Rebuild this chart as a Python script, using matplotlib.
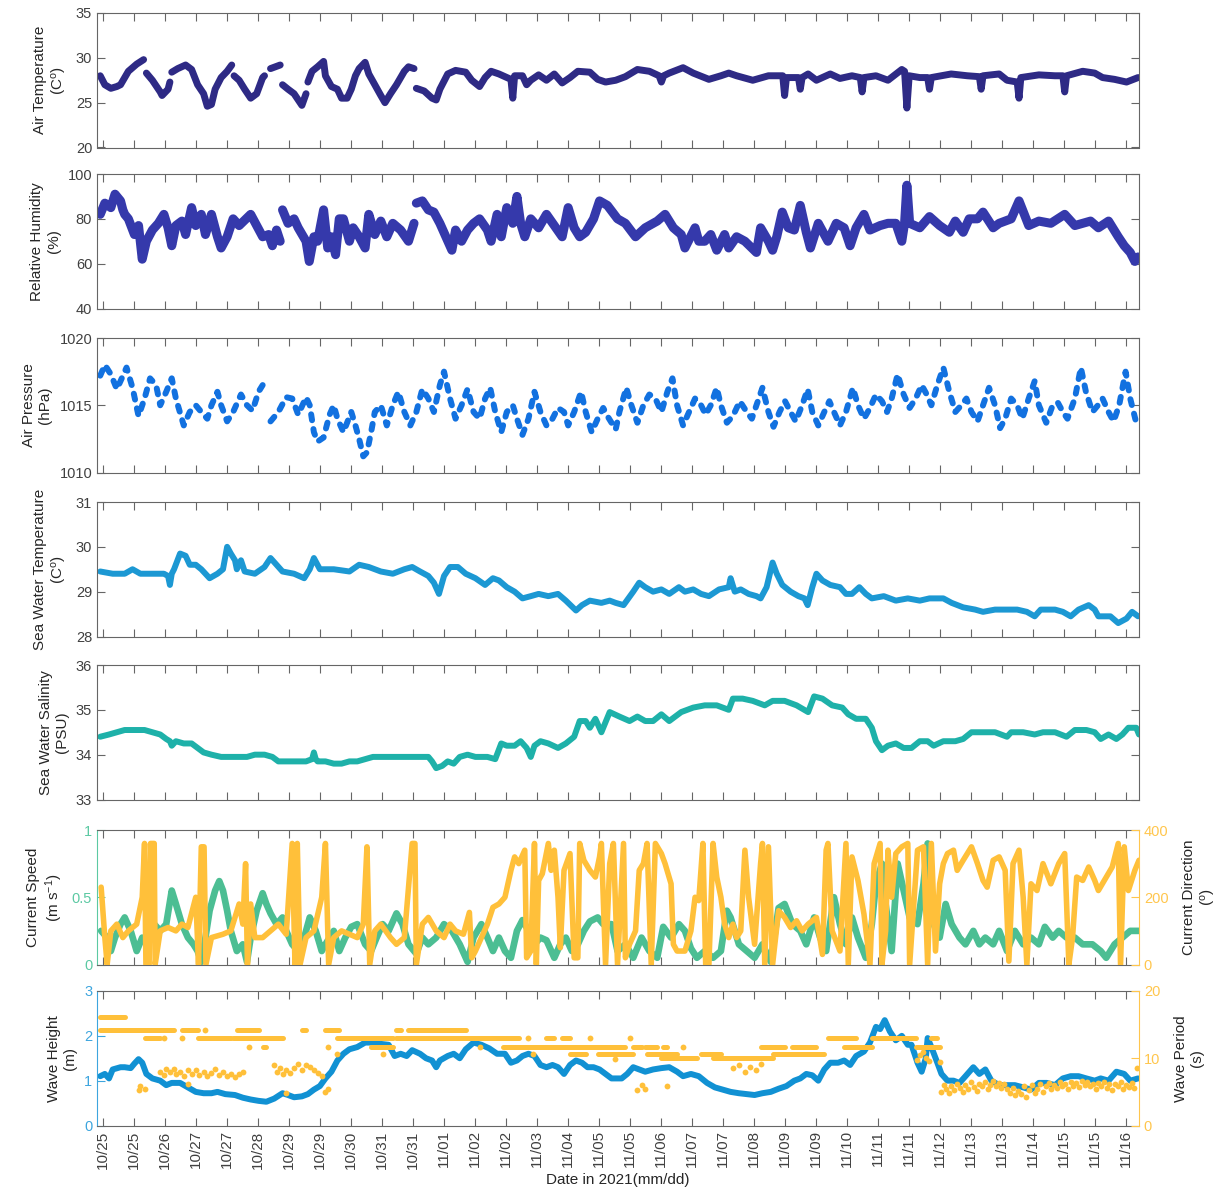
import numpy as np
import matplotlib
matplotlib.use('Agg')
import matplotlib.pyplot as plt
from matplotlib.ticker import FormatStrFormatter

plt.rcParams['font.family'] = ['Liberation Sans', 'DejaVu Sans']
plt.rcParams['mathtext.default'] = 'regular'

nan = np.nan

# time axis: days since 2021-10-25 00:00
x_lo, x_hi = 0.12, 22.70
tick_start, tick_step = 0.25, 0.672
tick_labels = ['10/25', '10/25', '10/26', '10/27', '10/27', '10/28', '10/29', '10/29', '10/30', '10/31',
               '10/31', '11/01', '11/02', '11/02', '11/03', '11/04', '11/05', '11/05', '11/06', '11/07',
               '11/07', '11/08', '11/09', '11/09', '11/10', '11/11', '11/11', '11/12', '11/13', '11/13',
               '11/14', '11/15', '11/15', '11/16']

# air temperature
air_t = [0.19, 0.29, 0.42, 0.55, 0.63, 0.80, 0.98, 1.13, nan,
         1.19, 1.32, 1.49, 1.53, 1.66, 1.70, nan,
         1.74, 1.87, 2.04, 2.17, 2.30, 2.43, 2.51, 2.60, 2.68, 2.81, 2.94, 3.04, nan,
         3.09, 3.20, 3.32, 3.45, 3.58, 3.71, 3.75, nan,
         3.88, 4.09, nan,
         4.14, 4.26, 4.39, 4.56, 4.65, nan,
         4.69, 4.78, 4.90, 5.03, 5.07, 5.20, 5.33, 5.42, 5.54, 5.63, 5.72, 5.80, 5.93, 6.01, 6.14, 6.27,
         6.36, 6.48, 6.61, 6.78, 6.87, 6.99, nan,
         7.04, 7.21, 7.38, 7.47, 7.55, 7.72, 7.89, 8.11, 8.24, 8.41,
         8.53, 8.66, 8.83, 9.00, 9.09, 9.13, 9.17, 9.34, 9.43, 9.52,
         9.69, 9.86, 10.03, 10.20, 10.37, 10.54, 10.80, 10.97, 11.14, 11.36,
         11.57, 11.83, 12.09, 12.30, 12.35, 12.40, 12.52, 12.82, 13.04, 13.38,
         13.64, 13.81, 13.98, 14.33, 14.67, 14.98, 15.02, 15.06, 15.32, 15.36,
         15.40, 15.53, 15.71, 16.01, 16.22, 16.48, 16.66, 16.70, 16.74, 17.00,
         17.26, 17.56, 17.62, 17.67, 17.72, 17.95, 18.12, 18.16, 18.20, 18.63,
         18.98, 19.24, 19.28, 19.32, 19.67, 19.84, 20.06, 20.10, 20.14, 20.53,
         20.88, 21.05, 21.09, 21.13, 21.48, 21.74, 21.91, 22.17, 22.43, 22.68]
air_v = [28.0, 27.0, 26.6, 26.8, 27.0, 28.5, 29.3, 29.8, nan,
         28.3, 27.5, 26.2, 25.8, 26.5, 27.3, nan,
         28.4, 28.8, 29.2, 28.7, 27.0, 26.0, 24.6, 24.8, 26.5, 27.8, 28.5, 29.2, nan,
         28.0, 27.5, 26.5, 25.5, 26.0, 27.8, 28.0, nan,
         28.8, 29.2, nan,
         27.0, 26.5, 26.0, 24.7, 26.0, nan,
         27.3, 28.5, 29.0, 29.6, 28.0, 26.8, 26.5, 25.5, 25.5, 26.5, 28.0, 28.8, 29.5, 28.2, 27.0, 25.8,
         25.0, 26.0, 27.0, 28.5, 29.0, 28.8, nan,
         26.6, 26.3, 25.5, 25.3, 26.5, 28.2, 28.6, 28.4, 27.5, 26.8,
         27.8, 28.5, 28.2, 27.8, 27.6, 25.5, 28.0, 28.0, 27.0, 27.5,
         28.1, 27.5, 28.2, 27.2, 27.8, 28.5, 28.4, 27.6, 27.3, 27.5,
         27.9, 28.7, 28.5, 28.0, 27.3, 28.0, 28.3, 28.9, 28.3, 27.6,
         28.0, 28.3, 28.0, 27.5, 28.0, 28.0, 25.8, 27.8, 27.8, 26.5,
         27.8, 28.2, 27.5, 28.2, 27.7, 28.0, 27.8, 26.2, 27.8, 28.0,
         27.5, 28.7, 28.5, 24.4, 28.0, 27.8, 27.8, 26.5, 27.8, 28.2,
         28.0, 27.9, 26.5, 28.0, 28.2, 27.5, 27.3, 25.5, 27.8, 28.1,
         28.0, 28.0, 26.2, 28.0, 28.5, 28.3, 27.8, 27.6, 27.3, 27.8]

# relative humidity
hum_t = [0.19, 0.29, 0.42, 0.51, 0.63, 0.68, 0.72, 0.80, 0.93, 1.02,
         1.10, 1.19, 1.32, 1.45, 1.57, 1.66, 1.74, 1.83, 1.96, 2.04,
         2.17, 2.26, 2.38, 2.47, 2.60, 2.73, 2.81, 2.94, 3.07, 3.20,
         3.45, 3.58, 3.71, 3.84, 3.92, 4.01, 4.09, nan,
         4.14, 4.26, 4.39, 4.48, 4.65, 4.72, 4.82, 4.90, 5.03, 5.12,
         5.20, 5.29, 5.37, 5.46, 5.59, 5.67, 5.80, 5.93, 6.01, 6.14,
         6.27, 6.40, 6.53, 6.70, 6.87, 6.99, nan,
         7.04, 7.17, 7.30, 7.42, 7.55, 7.68, 7.81, 7.89, 8.02, 8.15,
         8.28, 8.41, 8.58, 8.66, 8.79, 8.88, 9.00, 9.13, 9.22, 9.30,
         9.39, 9.52, 9.69, 9.86, 10.03, 10.20, 10.33, 10.46, 10.58, 10.71,
         10.88, 11.01, 11.18, 11.40, 11.57, 11.79, 12.00, 12.26, 12.43, 12.61,
         12.78, 12.86, 13.08, 13.16, 13.29, 13.42, 13.55, 13.72, 13.81, 13.98,
         14.16, 14.41, 14.50, 14.67, 14.76, 14.85, 14.97, 15.10, 15.23, 15.36,
         15.49, 15.58, 15.75, 15.96, 16.14, 16.31, 16.44, 16.57, 16.74, 16.87,
         17.09, 17.26, 17.43, 17.56, 17.62, 17.67, 17.73, 17.95, 18.16, 18.38,
         18.59, 18.72, 18.89, 19.02, 19.20, 19.32, 19.54, 19.67, 19.93, 20.10,
         20.31, 20.53, 20.79, 21.09, 21.31, 21.65, 21.82, 22.04, 22.25, 22.38,
         22.51, 22.61, 22.68]
hum_v = [82, 87, 85, 91, 88, 84, 82, 80, 73, 77,
         62, 70, 75, 78, 82, 76, 68, 77, 79, 73,
         85, 77, 82, 73, 82, 72, 67, 72, 80, 77,
         82, 77, 72, 73, 68, 75, 70, nan,
         84, 78, 80, 76, 70, 61, 72, 70, 84, 67,
         72, 64, 80, 80, 70, 76, 72, 67, 82, 73,
         79, 72, 78, 75, 70, 78, nan,
         87, 88, 84, 83, 78, 72, 66, 75, 70, 75,
         78, 80, 75, 70, 82, 72, 85, 78, 90, 78,
         72, 80, 76, 82, 77, 72, 85, 76, 72, 74,
         80, 88, 86, 80, 78, 72, 76, 79, 82, 76,
         73, 67, 76, 70, 70, 73, 66, 73, 67, 72,
         70, 65, 76, 70, 66, 72, 83, 76, 75, 86,
         74, 67, 78, 70, 78, 76, 68, 76, 82, 75,
         77, 78, 78, 70, 78, 95, 78, 76, 81, 77,
         74, 79, 74, 80, 80, 83, 76, 78, 80, 88,
         77, 79, 78, 82, 77, 79, 76, 79, 72, 68,
         65, 61, 63]

# air pressure
pres_t = [0.19, 0.29, 0.42, 0.55, 0.63, 0.76, 0.89, 1.02, 1.15, 1.27,
          1.40, 1.49, 1.62, 1.74, 1.83, 2.00, 2.13, 2.26, 2.38, 2.51,
          2.60, 2.73, 2.81, 2.94, 3.07, 3.24, 3.37, 3.49, 3.62, 3.71, nan,
          3.88, 4.05, 4.22, 4.35, 4.48, 4.65, 4.73, 4.82, 4.90, 5.03,
          5.16, 5.25, 5.33, 5.46, 5.63, 5.72, 5.80, 5.89, 5.97, 6.06,
          6.14, 6.27, 6.40, 6.53, 6.65, 6.78, 6.91, 7.04, 7.17, 7.30,
          7.42, 7.55, 7.64, 7.77, 7.89, 8.02, 8.15, 8.28, 8.41, 8.53,
          8.64, 8.75, 8.88, 9.00, 9.13, 9.22, 9.34, 9.47, 9.60, 9.73,
          9.86, 9.99, 10.11, 10.24, 10.33, 10.46, 10.61, 10.71, 10.84, 10.97,
          11.09, 11.18, 11.36, 11.44, 11.59, 11.70, 11.83, 11.96, 12.09, 12.22,
          12.35, 12.48, 12.59, 12.69, 12.82, 12.95, 13.08, 13.21, 13.31, 13.42,
          13.55, 13.64, 13.77, 13.90, 14.05, 14.20, 14.31, 14.41, 14.54, 14.67,
          14.78, 14.91, 15.03, 15.15, 15.26, 15.40, 15.52, 15.62, 15.75, 15.88,
          15.99, 16.09, 16.22, 16.35, 16.50, 16.61, 16.74, 16.87, 17.00, 17.13,
          17.24, 17.34, 17.47, 17.60, 17.73, 17.86, 17.99, 18.10, 18.20, 18.33,
          18.46, 18.59, 18.72, 18.85, 18.96, 19.07, 19.20, 19.32, 19.45, 19.58,
          19.69, 19.80, 19.93, 20.06, 20.17, 20.31, 20.44, 20.53, 20.69, 20.83,
          20.94, 21.05, 21.15, 21.31, 21.44, 21.55, 21.69, 21.81, 21.91, 22.04,
          22.15, 22.27, 22.41, 22.51, 22.64, 22.70]
pres_v = [1017.2, 1018.0, 1017.3, 1016.2, 1016.8, 1017.8, 1016.3, 1014.2, 1015.5, 1017.0,
          1016.5, 1015.0, 1016.0, 1017.0, 1015.5, 1013.5, 1014.5, 1015.0, 1014.5, 1014.0,
          1015.0, 1016.0, 1015.0, 1013.8, 1014.5, 1015.8, 1015.0, 1014.6, 1016.0, 1016.5, nan,
          1013.8, 1014.5, 1015.6, 1015.5, 1014.3, 1015.6, 1015.0, 1013.0, 1012.3, 1012.6,
          1014.3, 1015.0, 1014.0, 1013.0, 1014.5, 1013.5, 1012.5, 1011.2, 1011.5, 1013.0,
          1014.5, 1015.0, 1013.5, 1015.0, 1016.0, 1014.5, 1013.5, 1014.5, 1016.2, 1015.5,
          1014.5, 1016.5, 1017.5, 1015.5, 1014.0, 1015.0, 1016.2, 1014.5, 1014.0, 1015.5,
          1016.3, 1014.5, 1013.0, 1014.5, 1015.0, 1014.0, 1012.8, 1014.0, 1016.0, 1014.5,
          1013.5, 1014.0, 1014.8, 1014.5, 1013.5, 1014.5, 1016.0, 1014.5, 1013.0, 1014.0,
          1014.8, 1014.2, 1013.2, 1014.5, 1016.3, 1015.0, 1013.7, 1015.0, 1015.8, 1015.5,
          1014.5, 1016.0, 1017.0, 1015.0, 1013.5, 1014.5, 1015.5, 1015.0, 1014.3, 1015.0,
          1016.3, 1015.0, 1013.7, 1014.2, 1015.3, 1014.5, 1014.0, 1015.0, 1016.3, 1014.5,
          1013.4, 1014.5, 1015.3, 1014.5, 1013.8, 1015.0, 1016.2, 1014.5, 1013.5, 1014.5,
          1015.3, 1014.5, 1013.5, 1014.5, 1016.3, 1015.0, 1014.0, 1014.8, 1015.8, 1015.3,
          1014.5, 1015.5, 1017.3, 1015.8, 1014.8, 1015.5, 1016.5, 1015.8, 1015.0, 1016.5,
          1017.8, 1016.0, 1014.5, 1015.0, 1015.5, 1014.5, 1013.8, 1015.0, 1016.3, 1015.0,
          1013.3, 1014.0, 1015.5, 1015.0, 1014.0, 1015.5, 1016.8, 1015.0, 1013.7, 1015.0,
          1015.2, 1014.5, 1014.0, 1015.5, 1017.8, 1016.0, 1014.5, 1015.0, 1015.5, 1014.5,
          1013.8, 1015.0, 1017.5, 1015.5, 1013.7, 1013.8]

# sea water temperature
sst_t = [0.19, 0.46, 0.72, 0.89, 1.06, 1.32, 1.57, 1.66, 1.70, 1.74,
         1.79, 1.92, 2.04, 2.13, 2.26, 2.38, 2.56, 2.73, 2.85, 2.94,
         3.02, 3.11, 3.15, 3.24, 3.32, 3.54, 3.75, 3.88, 4.01, 4.14,
         4.39, 4.61, 4.73, 4.82, 4.95, 5.25, 5.59, 5.80, 6.01, 6.27,
         6.53, 6.78, 6.95, 7.12, 7.30, 7.42, 7.53, 7.64, 7.77, 7.94,
         8.11, 8.32, 8.53, 8.70, 8.83, 9.00, 9.17, 9.34, 9.52, 9.69,
         9.90, 10.11, 10.28, 10.50, 10.63, 10.80, 11.05, 11.23, 11.36, 11.53,
         11.74, 11.87, 12.00, 12.17, 12.35, 12.52, 12.73, 12.86, 13.04, 13.21,
         13.38, 13.60, 13.81, 13.85, 13.94, 14.07, 14.24, 14.41, 14.50, 14.63,
         14.76, 14.85, 14.97, 15.15, 15.32, 15.45, 15.52, 15.62, 15.71, 15.84,
         16.01, 16.22, 16.35, 16.48, 16.64, 16.78, 16.91, 17.17, 17.43, 17.69,
         17.95, 18.16, 18.46, 18.64, 18.89, 19.15, 19.32, 19.58, 19.84, 20.06,
         20.27, 20.44, 20.57, 20.88, 21.05, 21.22, 21.39, 21.61, 21.74, 21.82,
         22.08, 22.25, 22.43, 22.55, 22.68]
sst_v = [29.45, 29.4, 29.4, 29.5, 29.4, 29.4, 29.4, 29.35, 29.15, 29.4,
         29.5, 29.85, 29.8, 29.6, 29.6, 29.5, 29.3, 29.4, 29.5, 30.0,
         29.85, 29.7, 29.5, 29.7, 29.45, 29.4, 29.55, 29.75, 29.6, 29.45,
         29.4, 29.3, 29.5, 29.75, 29.5, 29.5, 29.45, 29.6, 29.55, 29.45,
         29.4, 29.5, 29.55, 29.45, 29.35, 29.2, 28.95, 29.35, 29.55, 29.55,
         29.4, 29.3, 29.15, 29.3, 29.25, 29.1, 29.0, 28.85, 28.9, 28.95,
         28.9, 28.95, 28.8, 28.58, 28.7, 28.8, 28.75, 28.8, 28.75, 28.7,
         29.0, 29.2, 29.1, 29.0, 29.05, 28.95, 29.1, 29.0, 29.05, 28.95,
         28.9, 29.05, 29.1, 29.3, 29.0, 29.05, 28.95, 28.9, 28.85, 29.1,
         29.65, 29.4, 29.15, 29.0, 28.9, 28.85, 28.7, 29.1, 29.4, 29.25,
         29.15, 29.1, 28.95, 28.95, 29.1, 28.95, 28.85, 28.9, 28.8, 28.85,
         28.8, 28.85, 28.85, 28.75, 28.65, 28.6, 28.55, 28.6, 28.6, 28.6,
         28.55, 28.45, 28.6, 28.6, 28.55, 28.45, 28.6, 28.7, 28.6, 28.45,
         28.45, 28.3, 28.4, 28.55, 28.45]

# sea water salinity
sal_t = [0.19, 0.38, 0.55, 0.72, 1.15, 1.32, 1.49, 1.62, 1.70, 1.74,
         1.83, 2.00, 2.17, 2.30, 2.43, 2.60, 2.81, 3.02, 3.20, 3.37,
         3.54, 3.75, 3.92, 4.05, 4.22, 4.48, 4.65, 4.78, 4.82, 4.86,
         4.90, 5.07, 5.25, 5.42, 5.59, 5.76, 5.93, 6.10, 6.36, 6.61,
         6.87, 7.12, 7.30, 7.38, 7.47, 7.60, 7.72, 7.85, 7.98, 8.15,
         8.32, 8.58, 8.75, 8.88, 9.00, 9.17, 9.30, 9.43, 9.52, 9.60,
         9.73, 9.90, 10.11, 10.28, 10.46, 10.58, 10.71, 10.80, 10.92, 11.05,
         11.23, 11.44, 11.66, 11.83, 12.00, 12.17, 12.35, 12.52, 12.78, 13.04,
         13.29, 13.55, 13.81, 13.90, 14.11, 14.33, 14.59, 14.76, 15.02, 15.28,
         15.53, 15.66, 15.84, 16.05, 16.27, 16.40, 16.57, 16.78, 16.91, 17.00,
         17.13, 17.26, 17.43, 17.60, 17.77, 17.95, 18.12, 18.25, 18.46, 18.72,
         18.89, 19.07, 19.32, 19.58, 19.84, 19.93, 20.19, 20.44, 20.62, 20.88,
         21.13, 21.31, 21.56, 21.74, 21.87, 22.04, 22.21, 22.34, 22.47, 22.64,
         22.70]
sal_v = [34.4, 34.45, 34.5, 34.55, 34.55, 34.5, 34.45, 34.35, 34.3, 34.2,
         34.3, 34.25, 34.25, 34.15, 34.05, 34.0, 33.95, 33.95, 33.95, 33.95,
         34.0, 34.0, 33.95, 33.85, 33.85, 33.85, 33.85, 33.9, 34.05, 33.9,
         33.85, 33.85, 33.8, 33.8, 33.85, 33.85, 33.9, 33.95, 33.95, 33.95,
         33.95, 33.95, 33.95, 33.85, 33.7, 33.75, 33.85, 33.8, 33.95, 34.0,
         33.95, 33.95, 33.9, 34.25, 34.2, 34.2, 34.3, 34.15, 33.95, 34.2,
         34.3, 34.25, 34.15, 34.25, 34.4, 34.75, 34.75, 34.6, 34.8, 34.5,
         34.95, 34.85, 34.75, 34.85, 34.75, 34.75, 34.9, 34.75, 34.95, 35.05,
         35.1, 35.1, 35.0, 35.25, 35.25, 35.2, 35.1, 35.2, 35.2, 35.1,
         34.95, 35.3, 35.25, 35.1, 35.05, 34.9, 34.8, 34.8, 34.6, 34.3,
         34.1, 34.2, 34.25, 34.15, 34.15, 34.3, 34.3, 34.2, 34.3, 34.3,
         34.35, 34.5, 34.5, 34.5, 34.4, 34.5, 34.5, 34.45, 34.5, 34.5,
         34.4, 34.55, 34.55, 34.5, 34.35, 34.45, 34.35, 34.45, 34.6, 34.6,
         34.45]

# current speed (m/s)
spd_t = [0.21, 0.34, 0.42, 0.51, 0.63, 0.72, 0.85, 0.98, 1.10, 1.23,
         1.36, 1.49, 1.62, 1.74, 1.83, 1.96, 2.09, 2.21, 2.30, 2.38,
         2.47, 2.56, 2.68, 2.77, 2.85, 2.94, 3.02, 3.15, 3.28, 3.37,
         3.45, 3.58, 3.71, 3.79, 3.88, 4.01, 4.14, 4.22, 4.35, 4.48,
         4.61, 4.73, 4.86, 4.99, 5.07, 5.25, 5.37, 5.50, 5.63, 5.76,
         5.93, 6.06, 6.18, 6.31, 6.44, 6.61, 6.74, 6.87, 7.04, 7.17,
         7.30, 7.47, 7.64, 7.81, 7.98, 8.15, 8.28, 8.45, 8.58, 8.70,
         8.83, 8.96, 9.09, 9.22, 9.34, 9.47, 9.60, 9.73, 9.86, 10.03,
         10.16, 10.28, 10.41, 10.54, 10.67, 10.80, 10.97, 11.09, 11.27, 11.40,
         11.57, 11.74, 11.92, 12.09, 12.26, 12.39, 12.56, 12.73, 12.86, 12.99,
         13.12, 13.29, 13.47, 13.64, 13.77, 13.85, 14.03, 14.20, 14.37, 14.54,
         14.72, 14.89, 15.02, 15.19, 15.36, 15.49, 15.66, 15.79, 15.92, 16.09,
         16.22, 16.35, 16.48, 16.61, 16.78, 16.91, 17.00, 17.13, 17.21, 17.34,
         17.47, 17.60, 17.73, 17.90, 18.03, 18.12, 18.25, 18.38, 18.51, 18.64,
         18.81, 18.94, 19.11, 19.24, 19.37, 19.54, 19.67, 19.84, 20.01, 20.19,
         20.36, 20.53, 20.66, 20.83, 20.96, 21.13, 21.31, 21.48, 21.69, 21.87,
         21.99, 22.17, 22.34, 22.51, 22.70]
spd_v = [0.25, 0.2, 0.1, 0.2, 0.3, 0.35, 0.25, 0.1, 0.2, 0.15,
         0.3, 0.25, 0.3, 0.55, 0.45, 0.3, 0.2, 0.15, 0.1, 0.02,
         0.2, 0.4, 0.55, 0.62, 0.55, 0.4, 0.25, 0.1, 0.15, 0.02,
         0.2, 0.4, 0.53, 0.45, 0.38, 0.3, 0.35, 0.25, 0.15, 0.1,
         0.2, 0.35, 0.25, 0.1, 0.15, 0.25, 0.1, 0.2, 0.28, 0.3,
         0.15, 0.1, 0.2, 0.3, 0.25, 0.38, 0.3, 0.15, 0.08, 0.2,
         0.15, 0.2, 0.3, 0.25, 0.15, 0.02, 0.2, 0.3, 0.2, 0.1,
         0.2, 0.1, 0.05, 0.25, 0.33, 0.25, 0.15, 0.2, 0.18, 0.05,
         0.15, 0.2, 0.1, 0.15, 0.25, 0.32, 0.35, 0.3, 0.3, 0.1,
         0.15, 0.05, 0.2, 0.1, 0.05, 0.28, 0.2, 0.3, 0.25, 0.12,
         0.05, 0.1, 0.05, 0.1, 0.4, 0.35, 0.15, 0.1, 0.05, 0.15,
         0.02, 0.42, 0.45, 0.3, 0.25, 0.15, 0.35, 0.2, 0.1, 0.5,
         0.3, 0.15, 0.35, 0.2, 0.05, 0.3, 0.6, 0.75, 0.45, 0.1,
         0.75, 0.55, 0.35, 0.3, 0.6, 0.9, 0.3, 0.2, 0.45, 0.3,
         0.2, 0.15, 0.25, 0.15, 0.2, 0.15, 0.25, 0.1, 0.25, 0.15,
         0.2, 0.15, 0.28, 0.2, 0.25, 0.2, 0.2, 0.15, 0.15, 0.1,
         0.05, 0.15, 0.2, 0.25, 0.25]

# current direction (deg)
dir_t = [0.21, 0.29, 0.34, 0.42, 0.55, 0.68, 0.80, 0.98, 1.10, 1.15,
         1.18, 1.25, 1.28, 1.36, 1.38, 1.49, 1.66, 1.83, 1.96, 2.09,
         2.26, 2.32, 2.38, 2.44, 2.48, 2.60, 2.85, 3.02, 3.20, 3.28,
         3.34, 3.38, 3.45, 3.54, 3.71, 3.88, 4.05, 4.22, 4.35, 4.41,
         4.46, 4.52, 4.65, 4.82, 4.99, 5.07, 5.14, 5.25, 5.42, 5.59,
         5.76, 5.89, 5.97, 6.03, 6.14, 6.27, 6.48, 6.61, 6.78, 6.95,
         7.01, 7.04, 7.17, 7.30, 7.47, 7.64, 7.77, 7.89, 8.06, 8.19,
         8.24, 8.32, 8.45, 8.58, 8.70, 8.83, 8.96, 9.09, 9.17, 9.26,
         9.39, 9.43, 9.52, 9.60, 9.64, 9.69, 9.77, 9.90, 9.96, 10.03,
         10.11, 10.16, 10.24, 10.37, 10.46, 10.54, 10.58, 10.67, 10.80, 10.92,
         11.01, 11.05, 11.14, 11.23, 11.31, 11.40, 11.53, 11.57, 11.66, 11.79,
         11.87, 11.96, 12.04, 12.13, 12.22, 12.35, 12.43, 12.56, 12.61, 12.69,
         12.86, 12.99, 13.08, 13.16, 13.25, 13.31, 13.38, 13.47, 13.55, 13.64,
         13.72, 13.81, 13.90, 13.98, 14.07, 14.16, 14.24, 14.37, 14.50, 14.54,
         14.59, 14.67, 14.76, 14.89, 15.02, 15.15, 15.28, 15.40, 15.53, 15.71,
         15.84, 15.92, 15.96, 16.05, 16.22, 16.35, 16.40, 16.48, 16.61, 16.74,
         16.87, 16.96, 17.09, 17.13, 17.21, 17.26, 17.34, 17.43, 17.56, 17.69,
         17.73, 17.90, 18.03, 18.12, 18.20, 18.29, 18.38, 18.46, 18.55, 18.68,
         18.76, 18.89, 19.07, 19.20, 19.32, 19.41, 19.54, 19.67, 19.80, 19.88,
         19.97, 20.10, 20.19, 20.27, 20.36, 20.49, 20.62, 20.79, 20.96, 21.09,
         21.18, 21.26, 21.35, 21.48, 21.61, 21.74, 21.82, 21.99, 22.12, 22.25,
         22.30, 22.38, 22.47, 22.61, 22.70]
dir_v = [230, 80, 0, 100, 120, 80, 100, 120, 200, 360,
         0, 0, 360, 360, 0, 100, 110, 100, 120, 110,
         200, 0, 350, 350, 0, 80, 90, 100, 180, 120,
         300, 0, 180, 80, 80, 100, 120, 90, 360, 0,
         360, 0, 80, 100, 200, 360, 0, 80, 100, 90,
         80, 120, 350, 0, 100, 120, 80, 60, 80, 360,
         360, 0, 120, 140, 100, 80, 120, 100, 90, 155,
         20, 40, 80, 120, 170, 180, 200, 280, 320, 300,
         340, 20, 40, 360, 0, 250, 270, 360, 280, 340,
         200, 50, 280, 330, 20, 20, 360, 310, 280, 260,
         320, 360, 0, 300, 360, 0, 360, 20, 60, 100,
         280, 300, 360, 0, 360, 330, 300, 240, 60, 40,
         40, 100, 200, 190, 360, 0, 0, 360, 260, 200,
         120, 80, 120, 80, 100, 340, 200, 60, 300, 360,
         0, 350, 0, 160, 140, 110, 130, 100, 120, 140,
         30, 340, 360, 100, 40, 360, 0, 320, 250, 150,
         0, 300, 360, 0, 100, 340, 200, 330, 350, 360,
         0, 340, 350, 0, 360, 40, 240, 300, 330, 340,
         280, 310, 350, 300, 250, 230, 310, 320, 280, 10,
         300, 340, 200, 0, 240, 220, 300, 240, 300, 330,
         0, 80, 260, 250, 290, 250, 220, 260, 290, 360,
         0, 350, 220, 280, 310]

# wave height (m)
wh_t = [0.19, 0.29, 0.38, 0.46, 0.63, 0.72, 0.85, 0.93, 1.02, 1.10,
        1.19, 1.32, 1.49, 1.62, 1.74, 1.92, 2.09, 2.26, 2.43, 2.60,
        2.73, 2.90, 3.11, 3.28, 3.45, 3.62, 3.79, 3.96, 4.14, 4.26,
        4.39, 4.56, 4.69, 4.82, 4.95, 5.07, 5.20, 5.33, 5.46, 5.59,
        5.76, 5.93, 6.10, 6.27, 6.44, 6.57, 6.70, 6.83, 6.95, 7.12,
        7.25, 7.38, 7.47, 7.55, 7.72, 7.85, 7.98, 8.11, 8.28, 8.45,
        8.62, 8.79, 8.96, 9.09, 9.22, 9.34, 9.47, 9.60, 9.73, 9.86,
        9.99, 10.11, 10.24, 10.37, 10.50, 10.63, 10.75, 10.88, 11.01, 11.14,
        11.27, 11.36, 11.49, 11.61, 11.74, 11.87, 12.00, 12.17, 12.35, 12.52,
        12.69, 12.82, 12.99, 13.16, 13.34, 13.51, 13.68, 13.85, 14.03, 14.20,
        14.37, 14.54, 14.72, 14.89, 15.06, 15.23, 15.36, 15.49, 15.62, 15.75,
        15.88, 16.01, 16.18, 16.31, 16.44, 16.57, 16.74, 16.87, 17.00, 17.09,
        17.19, 17.30, 17.43, 17.56, 17.69, 17.77, 17.90, 17.99, 18.08, 18.12,
        18.20, 18.33, 18.42, 18.55, 18.68, 18.81, 18.94, 19.11, 19.24, 19.37,
        19.50, 19.67, 19.84, 20.01, 20.19, 20.36, 20.53, 20.70, 20.88, 21.05,
        21.22, 21.39, 21.56, 21.74, 21.87, 22.04, 22.21, 22.38, 22.51, 22.68]
wh_v = [1.1, 1.15, 1.05, 1.25, 1.3, 1.3, 1.28, 1.38, 1.48, 1.4,
        1.15, 1.05, 1.0, 0.9, 0.95, 0.95, 0.85, 0.75, 0.72, 0.72,
        0.75, 0.7, 0.68, 0.62, 0.58, 0.55, 0.53, 0.6, 0.72, 0.68,
        0.63, 0.65, 0.7, 0.8, 0.88, 1.05, 1.2, 1.45, 1.6, 1.7,
        1.75, 1.85, 1.85, 1.82, 1.8, 1.55, 1.6, 1.55, 1.68, 1.6,
        1.5, 1.45, 1.3, 1.45, 1.55, 1.6, 1.5, 1.7, 1.85, 1.8,
        1.72, 1.6, 1.6, 1.4, 1.45, 1.55, 1.6, 1.55, 1.35, 1.3,
        1.35, 1.3, 1.15, 1.35, 1.45, 1.4, 1.3, 1.3, 1.25, 1.15,
        1.05, 1.05, 1.05, 1.15, 1.3, 1.25, 1.2, 1.25, 1.28, 1.3,
        1.2, 1.1, 1.15, 1.1, 0.95, 0.85, 0.8, 0.75, 0.72, 0.7,
        0.68, 0.72, 0.75, 0.82, 0.88, 1.0, 1.05, 1.15, 1.12, 1.0,
        1.25, 1.4, 1.4, 1.45, 1.35, 1.55, 1.65, 1.85, 2.2, 2.15,
        2.35, 2.1, 1.9, 2.0, 1.8, 1.8, 1.4, 1.2, 1.5, 1.95,
        1.75, 1.4, 1.15, 1.0, 1.0, 0.95, 1.1, 1.3, 1.15, 1.25,
        1.0, 0.9, 0.9, 0.9, 0.85, 0.8, 0.95, 0.95, 0.9, 1.05,
        1.1, 1.1, 1.05, 1.0, 1.05, 1.0, 1.2, 1.15, 1.0, 1.05]

# wave period (s): runs of equal readings, then single readings
run_start = [0.19, 0.19, 1.96, 3.15, 4.56, 5.07, 6.61, 6.87, 1.15, 2.30,
             3.07, 5.33, 6.61, 9.86, 10.20, 3.71, 6.06, 8.92, 10.37, 10.97,
             11.74, 12.00, 12.39, 14.50, 15.19, 16.31, 12.04, 13.21, 14.76, 12.35,
             13.47, 15.96, 16.91, 18.20, 17.86]
run_end = [0.72, 1.79, 2.30, 3.62, 4.65, 5.37, 6.70, 8.11, 1.49, 3.02,
           4.14, 6.53, 9.26, 10.03, 10.37, 3.79, 6.53, 11.57, 10.71, 11.74,
           11.92, 12.26, 12.48, 15.02, 15.71, 16.91, 12.69, 13.64, 15.88, 13.12,
           14.76, 16.57, 17.86, 18.33, 18.38]
run_level = [16.1, 14.25, 14.25, 14.25, 14.25, 14.25, 14.25, 14.25, 13.0, 13.0,
             13.0, 13.0, 13.0, 13.0, 13.0, 11.7, 11.7, 11.7, 10.7, 10.7,
             11.7, 11.7, 11.7, 11.7, 11.7, 11.7, 10.7, 10.7, 10.7, 10.0,
             10.0, 13.0, 13.0, 13.0, 11.7]
per_t = [1.02, 1.06, 1.15, 1.49, 1.57, 1.62, 1.70, 1.79, 1.83, 1.92,
         2.00, 2.09, 2.09, 2.17, 2.26, 2.34, 2.43, 2.51, 2.60, 2.68,
         2.77, 2.85, 2.94, 3.02, 3.11, 3.20, 3.28, 1.57, 1.96, 2.47,
         3.41, 3.96, 4.01, 4.09, 4.14, 4.22, 4.22, 4.30, 4.39, 4.48,
         4.56, 4.65, 4.73, 4.82, 4.90, 4.99, 5.07, 5.12, 5.12, 5.33,
         6.31, 8.41, 9.47, 9.56, 10.80, 11.35, 11.66, 11.83, 11.92, 12.00,
         12.48, 12.82, 13.90, 14.03, 14.16, 14.28, 14.41, 14.50, 17.90, 17.95,
         18.03, 18.08, 18.16, 18.38,
         18.42, 18.47, 18.52, 18.58, 18.63, 18.70, 18.76, 18.82, 18.88, 18.94,
         19.00, 19.06, 19.12, 19.18, 19.24, 19.30, 19.36, 19.42, 19.48, 19.54,
         19.60, 19.66, 19.72, 19.78, 19.84, 19.90, 19.96, 20.02, 20.08, 20.14,
         20.20, 20.26, 20.32, 20.38, 20.44, 20.50, 20.56, 20.62, 20.68, 20.74,
         20.80, 20.86, 20.92, 20.98, 21.04, 21.10, 21.16, 21.22, 21.28, 21.34,
         21.40, 21.46, 21.52, 21.58, 21.64, 21.70, 21.76, 21.82, 21.88, 21.94,
         22.00, 22.06, 22.12, 22.18, 22.24, 22.30, 22.36, 22.42, 22.48, 22.54,
         22.60, 22.66]
per_v = [5.3, 5.9, 5.5, 8.0, 7.5, 8.4, 7.9, 8.4, 7.6, 8.0,
         7.4, 8.2, 6.1, 7.7, 8.3, 7.5, 7.9, 7.4, 7.8, 8.4,
         7.5, 7.9, 7.3, 7.6, 7.2, 7.6, 7.9, 13.0, 13.0, 14.25,
         11.7, 9.0, 8.0, 8.6, 7.6, 8.3, 4.8, 7.8, 8.6, 9.2,
         8.2, 9.0, 8.7, 8.2, 7.8, 7.4, 5.0, 5.4, 11.7, 10.6,
         10.6, 11.7, 13.0, 10.6, 13.0, 9.9, 13.0, 5.3, 6.0, 5.5,
         5.9, 11.7, 8.5, 9.0, 8.0, 8.7, 8.2, 9.1, 9.8, 10.5,
         11.0, 10.0, 9.6, 9.4,
         5.0, 6.0, 5.4, 4.8, 5.9, 5.3, 6.2, 5.6, 5.0, 6.0,
         5.5, 6.4, 5.7, 5.2, 6.1, 5.8, 6.4, 5.5, 6.0, 6.6,
         5.9, 6.3, 5.6, 6.2, 5.4, 4.8, 5.6, 4.5, 5.2, 4.7,
         5.8, 4.2, 5.3, 6.0, 4.9, 5.5, 6.2, 5.0, 5.8, 6.3,
         5.4, 6.0, 5.6, 6.4, 5.8, 6.2, 5.5, 6.5, 5.9, 6.3,
         5.7, 6.6, 6.0, 6.4, 5.8, 6.2, 5.4, 6.3, 5.9, 6.5,
         5.6, 6.1, 5.3, 6.2, 5.8, 6.4, 5.5, 6.0, 5.7, 6.3,
         5.6, 8.6]

# colours
c_air = '#2e2a85'
c_hum = '#3539ab'
c_pres = '#1271e0'
c_sst = '#1c98d3'
c_sal = '#1eb1a9'
c_spd = '#4cbe93'
c_dir = '#ffc03a'
c_wh = '#1191d3'
c_spd_axis = '#5cc9a3'
c_wh_axis = '#3da5de'
c_right_axis = '#ffc64d'
c_frame = '#666666'
c_text = '#262626'

tick_pos = [tick_start + k * tick_step for k in range(len(tick_labels))]

fig = plt.figure(figsize=(12.24, 11.95), dpi=100)
panel_top = [13, 174, 338, 502, 665, 830, 991]
panel_h = 134.5
axs = []
for top in panel_top:
    axs.append(fig.add_axes([97 / 1224, 1 - (top + panel_h) / 1195, 1042 / 1224, panel_h / 1195]))


def style(ax, ylim, yticks, ylabel):
    ax.set_xlim(x_lo, x_hi)
    ax.set_ylim(*ylim)
    ax.set_yticks(yticks)
    ax.yaxis.set_major_formatter(FormatStrFormatter('%g'))
    ax.set_xticks(tick_pos)
    ax.tick_params(axis='both', direction='in', length=5.5, width=0.8, color=c_frame,
                   labelcolor='#404040', labelsize=10.5, top=True, right=True, labelbottom=False)
    for sp in ax.spines.values():
        sp.set_color(c_frame)
        sp.set_linewidth(0.8)
    ax.set_ylabel(ylabel, fontsize=11, color=c_text, labelpad=5)


line_kw = dict(lw=4.3, solid_capstyle='round', solid_joinstyle='round')

ax = axs[0]
ax.plot(air_t, air_v, color=c_air, lw=5, solid_capstyle='round', solid_joinstyle='round')
style(ax, (20, 35), [20, 25, 30, 35], 'Air Temperature\n(C$^o$)')

ax = axs[1]
ax.plot(hum_t, hum_v, color=c_hum, lw=6.5, solid_capstyle='round', solid_joinstyle='round')
style(ax, (40, 100), [40, 60, 80, 100], 'Relative Humidity\n(%)')

ax = axs[2]
ax.plot(pres_t, pres_v, color=c_pres, lw=4.3, ls=(0, (1.0, 1.5)), dash_capstyle='round')
style(ax, (1010, 1020), [1010, 1015, 1020], 'Air Pressure\n(hPa)')

ax = axs[3]
ax.plot(sst_t, sst_v, color=c_sst, **line_kw)
style(ax, (28, 31), [28, 29, 30, 31], 'Sea Water Temperature\n(C$^o$)')

ax = axs[4]
ax.plot(sal_t, sal_v, color=c_sal, **line_kw)
style(ax, (33, 36), [33, 34, 35, 36], 'Sea Water Salinity\n(PSU)')

# current speed / direction
ax = axs[5]
ax.plot(spd_t, spd_v, color=c_spd, lw=4.8, solid_capstyle='round', solid_joinstyle='round')
style(ax, (0, 1), [0, 0.5, 1], 'Current Speed\n(m s$^{-1}$)')
ax2 = ax.twinx()
ax2.plot(dir_t, dir_v, color=c_dir, lw=4, solid_capstyle='round', solid_joinstyle='round')
ax2.set_ylim(0, 400)
ax2.set_yticks([0, 200, 400])
ax2.set_ylabel('Current Direction\n($^o$)', fontsize=11, color=c_text, labelpad=10)

# wave height / period
ax = axs[6]
ax.plot(wh_t, wh_v, color=c_wh, **line_kw)
style(ax, (0, 3), [0, 1, 2, 3], 'Wave Height\n(m)')
ax3 = ax.twinx()
for s, e, lev in zip(run_start, run_end, run_level):
    ax3.plot([s, e], [lev, lev], color=c_dir, lw=3.6, solid_capstyle='round')
ax3.plot(per_t, per_v, 'o', ms=4.2, color=c_dir, mec='none')
ax3.set_ylim(0, 20)
ax3.set_yticks([0, 10, 20])
ax3.set_ylabel('Wave Period\n(s)', fontsize=11, color=c_text, labelpad=10)

for left_ax, right_ax, left_col in [(axs[5], ax2, c_spd_axis), (axs[6], ax3, c_wh_axis)]:
    left_ax.tick_params(axis='y', right=False, color=left_col, labelcolor=left_col)
    left_ax.spines['left'].set_color(left_col)
    left_ax.spines['right'].set_visible(False)
    right_ax.set_xlim(x_lo, x_hi)
    right_ax.tick_params(axis='y', direction='in', length=5.5, width=0.8, color=c_right_axis,
                         labelcolor=c_right_axis, labelsize=10.5)
    right_ax.spines['right'].set_color(c_right_axis)
    right_ax.spines['right'].set_linewidth(0.8)
    for side in ['left', 'top', 'bottom']:
        right_ax.spines[side].set_visible(False)

bottom = axs[6]
bottom.tick_params(axis='x', labelbottom=True, labelrotation=90, labelsize=11)
bottom.set_xticklabels(tick_labels)
bottom.set_xlabel('Date in 2021(mm/dd)', fontsize=11, color=c_text, labelpad=3)

fig.savefig('out.png', dpi=100)
